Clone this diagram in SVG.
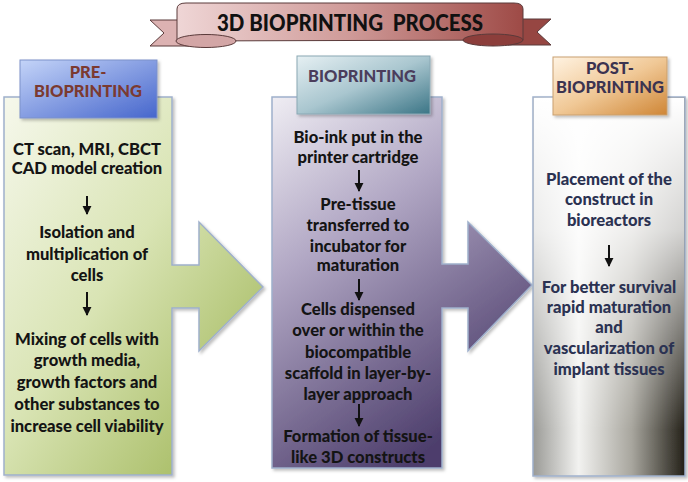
<svg xmlns="http://www.w3.org/2000/svg" width="688" height="482" viewBox="0 0 688 482">
<defs>
<style>
.t{font-family:Lato,"Open Sans","Liberation Sans",sans-serif;font-weight:900;font-size:16.6px;text-anchor:middle;fill:#141414}
.tr{fill:#2b3252}
.lab{font-family:Lato,"Open Sans","Liberation Sans",sans-serif;font-weight:900;font-size:16.5px;text-anchor:middle}
.box{stroke:#9fb0cc;stroke-width:1.5}
.conn{stroke:#111;stroke-width:2;fill:none;marker-end:url(#ah)}
.rib{stroke:#5a3a3a;stroke-width:1}
</style>
<marker id="ah" viewBox="0 0 10 10" refX="9" refY="5" markerWidth="4.6" markerHeight="4.6" orient="auto" markerUnits="strokeWidth">
<path d="M0,0 L10,5 L0,10 Z" fill="#111"/>
</marker>
<filter id="sh" x="-5%" y="-5%" width="115%" height="115%">
<feDropShadow dx="2" dy="2" stdDeviation="1.5" flood-color="#000" flood-opacity="0.25"/>
</filter>
<linearGradient id="gL" x1="0" y1="0" x2="1" y2="1">
<stop offset="0" stop-color="#f6f8ec"/>
<stop offset="0.45" stop-color="#d9e4b4"/>
<stop offset="1" stop-color="#98b04c"/>
</linearGradient>
<linearGradient id="gM" x1="0" y1="0" x2="0.5" y2="1">
<stop offset="0" stop-color="#efedf3"/>
<stop offset="0.4" stop-color="#b1a7c4"/>
<stop offset="1" stop-color="#4d3e6c"/>
</linearGradient>
<linearGradient id="gR" x1="0" y1="0" x2="1" y2="0">
<stop offset="0" stop-color="#9a9a96"/>
<stop offset="0.3" stop-color="#f2f2f0"/>
<stop offset="0.65" stop-color="#a8a69e"/>
<stop offset="1" stop-color="#221f17"/>
</linearGradient>
<linearGradient id="gRv" x1="0" y1="0" x2="0" y2="1">
<stop offset="0" stop-color="#fff" stop-opacity="1"/>
<stop offset="0.35" stop-color="#fff" stop-opacity="0.8"/>
<stop offset="0.88" stop-color="#fff" stop-opacity="0"/>
</linearGradient>
<linearGradient id="gLL" x1="0" y1="0" x2="1" y2="1">
<stop offset="0" stop-color="#c4d4f8"/>
<stop offset="1" stop-color="#4666cc"/>
</linearGradient>
<linearGradient id="gML" x1="0" y1="0" x2="1" y2="1">
<stop offset="0" stop-color="#e6f0f3"/>
<stop offset="0.5" stop-color="#a9c6cf"/>
<stop offset="1" stop-color="#3b7586"/>
</linearGradient>
<linearGradient id="gRL" x1="0" y1="0" x2="1" y2="1">
<stop offset="0" stop-color="#fff3e2"/>
<stop offset="0.5" stop-color="#f0c896"/>
<stop offset="1" stop-color="#cf8636"/>
</linearGradient>
<linearGradient id="gRib" x1="0" y1="0" x2="1" y2="0">
<stop offset="0" stop-color="#efd6d6"/>
<stop offset="0.5" stop-color="#cf9a98"/>
<stop offset="1" stop-color="#9e4a46"/>
</linearGradient>
</defs>
<rect width="688" height="482" fill="#fff"/>

<g id="title">
<polygon class="rib" points="150,20 192,20 192,46 150,46 164,33" fill="#dcb2b2"/>
<polygon class="rib" points="508,19 551,19 537,32 551,45 508,45" fill="#964642"/>
<path class="rib" d="M177,41 L177,9 Q177,3 186,3 L514,3 Q523,3 523,9 L523,40 Z" fill="url(#gRib)"/>
<ellipse class="rib" cx="206" cy="41" rx="30" ry="6.5" fill="#d3a6a6"/>
<ellipse class="rib" cx="493" cy="40" rx="30" ry="6" fill="#8c3e3b"/>
<text x="350" y="31" font-family="Lato,'Open Sans','Liberation Sans',sans-serif" font-weight="900" font-size="22" text-anchor="middle" fill="#111" xml:space="preserve" textLength="266" lengthAdjust="spacingAndGlyphs">3D BIOPRINTING  PROCESS</text>
</g>

<g id="pre-bioprinting">
<polygon class="box" filter="url(#sh)" fill="url(#gL)" points="4,97 172,97 172,265 199,265 199,222 263,287 199,351 199,308 172,308 172,475 4,475"/>
<rect x="20" y="60" width="137" height="58" fill="url(#gLL)" stroke="#7d92c9" stroke-width="1" filter="url(#sh)"/>
<text class="lab" fill="#7b3a30"><tspan x="88" y="78">PRE-</tspan><tspan x="88" y="97">BIOPRINTING</tspan></text>
<text class="t"><tspan x="87" y="155">CT scan, MRI, CBCT</tspan><tspan x="87" y="174">CAD model creation</tspan></text>
<text class="t"><tspan x="87" y="238">Isolation and</tspan><tspan x="87" y="260">multiplication of</tspan><tspan x="87" y="281">cells</tspan></text>
<text class="t"><tspan x="87" y="345">Mixing of cells with</tspan><tspan x="87" y="366">growth media,</tspan><tspan x="87" y="388">growth factors and</tspan><tspan x="87" y="410">other substances to</tspan><tspan x="87" y="432">increase cell viability</tspan></text>
</g>

<g id="bioprinting">
<polygon class="box" filter="url(#sh)" fill="url(#gM)" points="272,97 442,97 442,264 468,264 468,222 532,285 468,351 468,308 442,308 442,468 272,468"/>
<rect x="297" y="56" width="133" height="58" fill="url(#gML)" stroke="#8aa8b4" stroke-width="1" filter="url(#sh)"/>
<text class="lab" fill="#4b3d5c"><tspan x="362" y="82">BIOPRINTING</tspan></text>
<text class="t"><tspan x="358" y="143">Bio-ink put in the</tspan><tspan x="358" y="163">printer cartridge</tspan></text>
<text class="t"><tspan x="358" y="210">Pre-tissue</tspan><tspan x="358" y="231">transferred to</tspan><tspan x="358" y="252">incubator for</tspan><tspan x="358" y="271">maturation</tspan></text>
<text class="t"><tspan x="358" y="315">Cells dispensed</tspan><tspan x="358" y="336">over or within the</tspan><tspan x="358" y="358">biocompatible</tspan><tspan x="358" y="379">scaffold in layer-by-</tspan><tspan x="358" y="400">layer approach</tspan></text>
<text class="t"><tspan x="358" y="442">Formation of tissue-</tspan><tspan x="358" y="463">like 3D constructs</tspan></text>
</g>

<g id="post-bioprinting">
<rect class="box" x="533" y="97" width="152" height="379" fill="url(#gR)" filter="url(#sh)"/>
<rect x="533.75" y="97.75" width="150.5" height="377.5" fill="url(#gRv)"/>
<rect x="553" y="57" width="114" height="58" fill="url(#gRL)" stroke="#c9a070" stroke-width="1" filter="url(#sh)"/>
<text class="lab" fill="#3c3350"><tspan x="610" y="74">POST-</tspan><tspan x="610" y="93">BIOPRINTING</tspan></text>
<text class="t tr"><tspan x="609" y="185">Placement of the</tspan><tspan x="609" y="205">construct in</tspan><tspan x="609" y="226">bioreactors</tspan></text>
<text class="t tr"><tspan x="609" y="293">For better survival</tspan><tspan x="609" y="313">rapid maturation</tspan><tspan x="609" y="333">and</tspan><tspan x="609" y="354">vascularization of</tspan><tspan x="609" y="375">implant tissues</tspan></text>
</g>

<g id="connectors">
<line class="conn" x1="87" y1="196" x2="87" y2="214"/>
<line class="conn" x1="87" y1="292" x2="87" y2="315"/>
<line class="conn" x1="359" y1="170" x2="359" y2="191"/>
<line class="conn" x1="359" y1="279" x2="359" y2="300"/>
<line class="conn" x1="359" y1="404" x2="359" y2="426"/>
<line class="conn" x1="609" y1="245" x2="609" y2="266"/>
</g>
</svg>
